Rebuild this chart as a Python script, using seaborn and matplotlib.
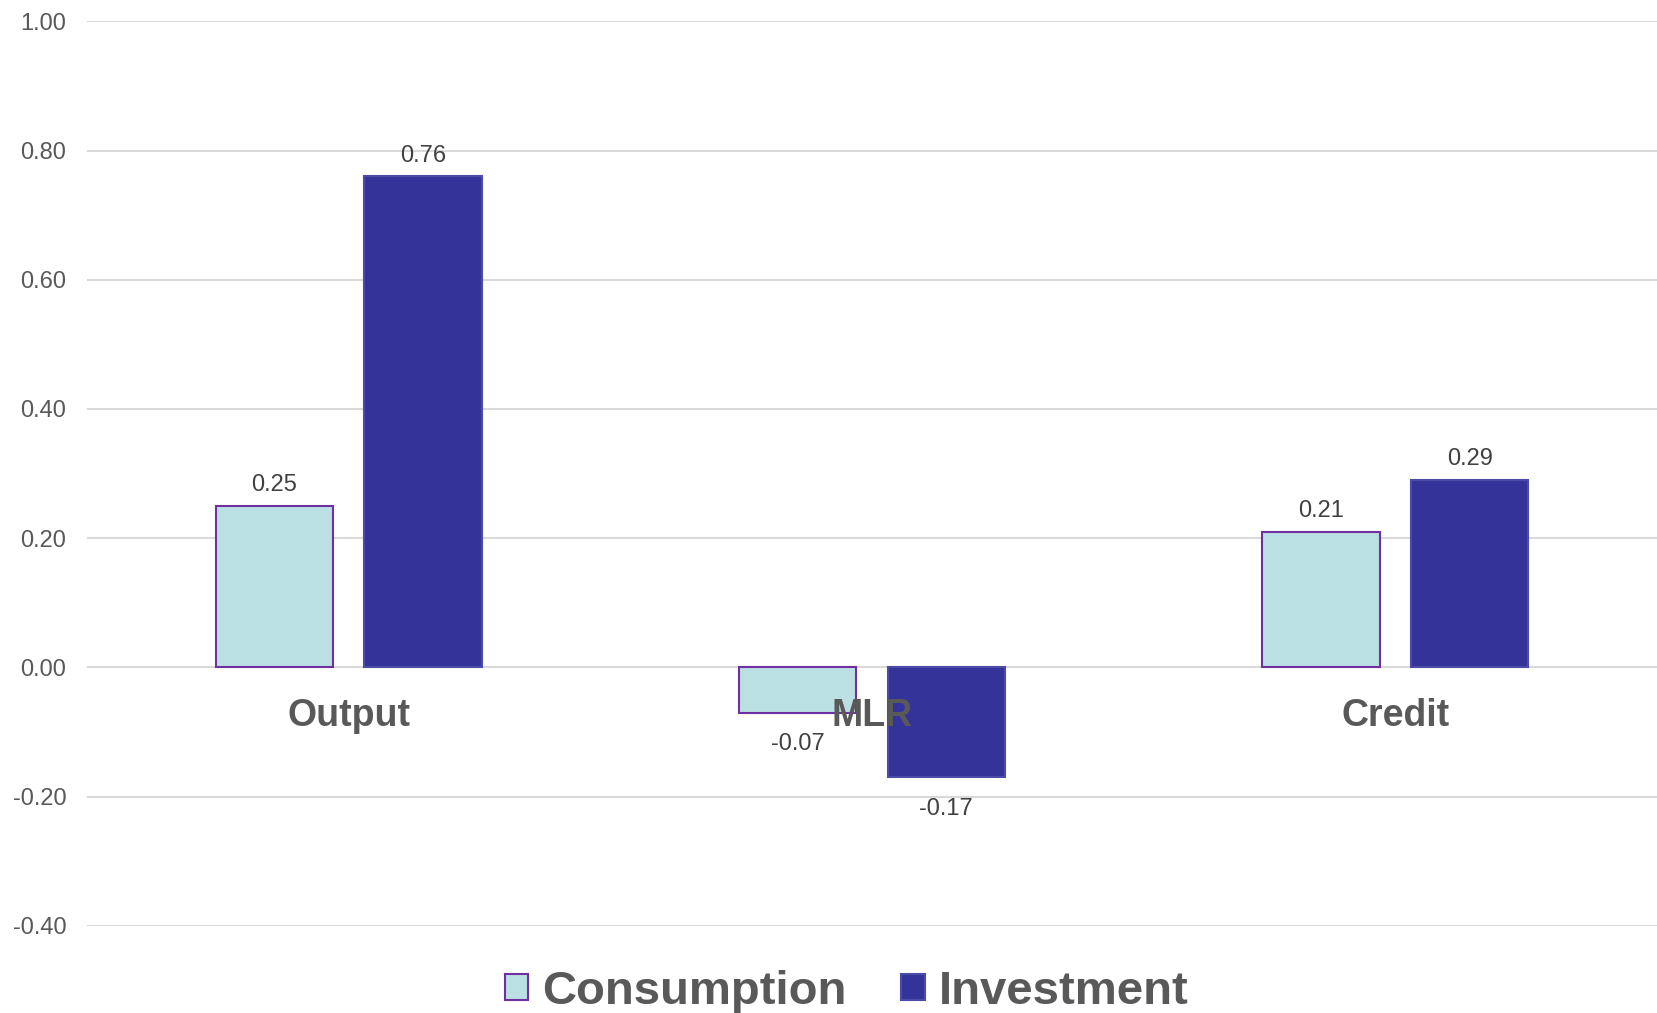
import pandas as pd
import seaborn as sns
import matplotlib.pyplot as plt

categories = ["Output", "MLR", "Credit"]
consumption = [0.25, -0.07, 0.21]
investment = [0.76, -0.17, 0.29]
series = ["Consumption", "Investment"]
yticks = [-0.40, -0.20, 0.00, 0.20, 0.40, 0.60, 0.80, 1.00]

df = pd.DataFrame({
    "category": categories * 2,
    "series": [series[0]] * 3 + [series[1]] * 3,
    "value": consumption + investment,
})

sns.set_style("white")
plt.rcParams['font.family'] = ['Liberation Sans', 'DejaVu Sans']
grey = "#595959"

fig = plt.figure(figsize=(16.57, 10.13), dpi=100)
ax = fig.add_axes([0.0525, 0.086, 0.9475, 0.893])

sns.barplot(data=df, x="category", y="value", hue="series", order=categories,
            palette=["#BBE0E3", "#333399"], width=0.568, gap=0.21,
            saturation=1, legend=True, ax=ax)

edges = ["#7030A0", "#4B4BA8"]
for cont, ec, vals in zip(ax.containers, edges, [consumption, investment]):
    for p in cont:
        p.set_edgecolor(ec)
        p.set_linewidth(1.5)
    # labels above positive bars, a bit further below negative ones
    pos = [f"{v:.2f}" if v >= 0 else "" for v in vals]
    neg = [f"{v:.2f}" if v < 0 else "" for v in vals]
    ax.bar_label(cont, labels=pos, padding=7, fontsize=17, color="#404040")
    ax.bar_label(cont, labels=neg, padding=15, fontsize=17, color="#404040")

ax.set_ylim(-0.4, 1.0)
ax.set_xlim(-0.5, 2.5)
ax.set_yticks(yticks)
ax.set_yticklabels([f"{t:.2f}" for t in yticks], fontsize=17, color=grey)
ax.yaxis.grid(True, color="#D9D9D9", linewidth=1.5)
ax.set_axisbelow(True)
# category names sit on top of the bars
ax.xaxis.set_zorder(5)
ax.tick_params(axis="y", length=0, pad=15)
ax.tick_params(axis="x", length=0, pad=22)
for s in ax.spines.values():
    s.set_visible(False)
ax.spines["bottom"].set_position(("data", 0))
for lab in ax.get_xticklabels():
    lab.set_fontsize(27)
    lab.set_fontweight("bold")
    lab.set_color(grey)
ax.set_xlabel("")
ax.set_ylabel("")

handles, labels = ax.get_legend_handles_labels()
ax.get_legend().remove()
leg = fig.legend(handles, labels, loc="center", bbox_to_anchor=(0.511, 0.021),
                 ncol=2, frameon=False, handlelength=0.5, handleheight=0.5,
                 handletextpad=0.3, columnspacing=1.15,
                 prop={"size": 34, "weight": "bold"})
for h, ec in zip(leg.legend_handles, edges):
    h.set_edgecolor(ec)
    h.set_linewidth(1.5)
for t in leg.get_texts():
    t.set_color(grey)

fig.savefig("out.png", dpi=100)
